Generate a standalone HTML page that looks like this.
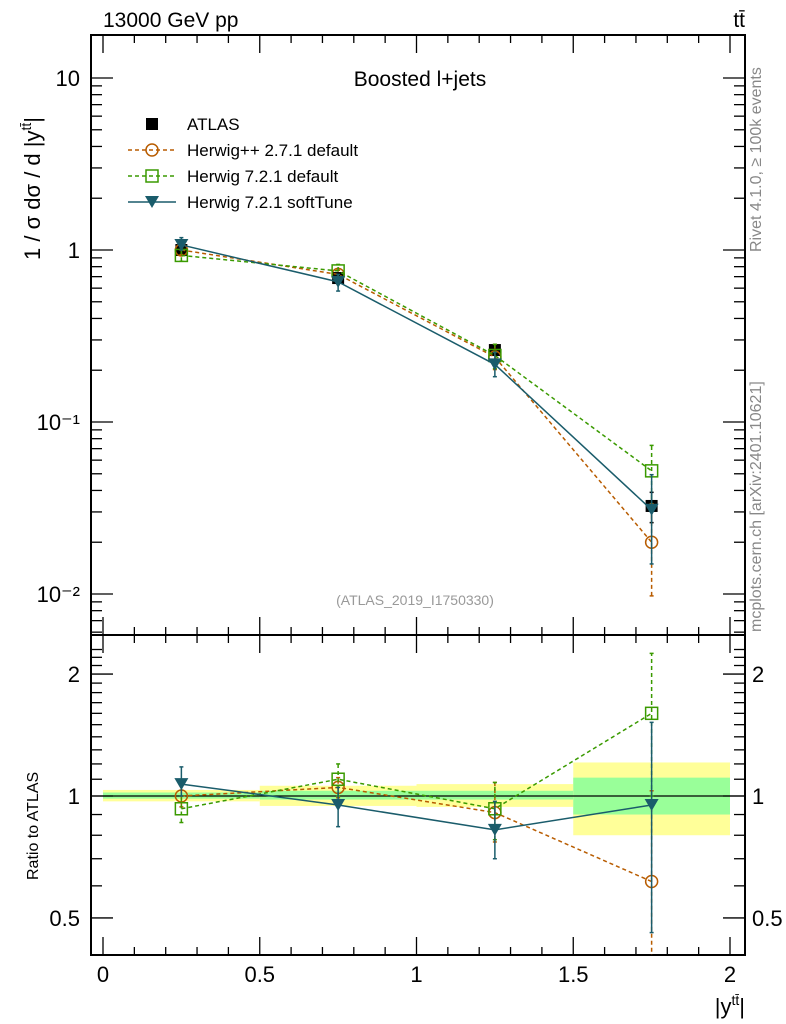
<!DOCTYPE html>
<html><head><meta charset="utf-8"><style>
body{margin:0;background:#fff;}
svg{display:block;font-family:"Liberation Sans",sans-serif;}
</style></head><body>
<svg id="c" width="786" height="1024" viewBox="0 0 786 1024" xmlns="http://www.w3.org/2000/svg"></svg>
<script>
const xCenters=[0.25,0.75,1.25,1.75];
const binEdges=[0,0.5,1,1.5,2];
const atlasVals=[1.0,0.687,0.262,0.0325];
const atlasRelErr=[0.03,0.05,0.06,0.2];
const hppRatio=[1.0,1.05,0.91,0.615];
const hppErrLo=[0.94,0.99,0.77,0.30];
const hppErrHi=[1.06,1.11,1.08,1.03];
const h7Ratio=[0.93,1.10,0.93,1.60];
const h7ErrLo=[0.86,1.0,0.78,1.0];
const h7ErrHi=[1.0,1.2,1.08,2.25];
const softRatio=[1.07,0.95,0.825,0.95];
const softErrLo=[1.0,0.84,0.70,0.46];
const softErrHi=[1.18,1.05,0.97,1.52];
const bandYelLo=[0.97,0.945,0.94,0.80];
const bandYelHi=[1.035,1.06,1.07,1.21];
const bandGrnLo=[0.985,0.98,0.98,0.90];
const bandGrnHi=[1.02,1.03,1.03,1.11];
const mainTicks=["10","1","10\u207B\u00B9","10\u207B\u00B2"];
const mainTickVals=[10,1,0.1,0.01];
const ratioTickVals=[0.5,1,2];
const xTickVals=[0,0.5,1,1.5,2];

const NS="http://www.w3.org/2000/svg";
const svg=document.getElementById('c');
const L=91,R=745,T=35,MB=635,RB=955;
const X=v=>103+v*313.5;
const Ym=v=>250-172*Math.log10(v);
const Yr=v=>796-405*Math.log10(v);
function el(t,a,p){const e=document.createElementNS(NS,t);for(const k in a)e.setAttribute(k,a[k]);(p||svg).appendChild(e);return e;}
function txt(s,a,name){const e=el('text',a);e.textContent=s;return e;}

const defs=el('defs',{});
const cm=el('clipPath',{id:'cm'},defs);el('rect',{x:L,y:T,width:R-L,height:MB-T},cm);
const cr=el('clipPath',{id:'cr'},defs);el('rect',{x:L,y:MB,width:R-L,height:RB-MB},cr);

const gb=el('g',{'clip-path':'url(#cr)'});


for(let i=0;i<4;i++){
 const r1=el('rect',{x:X(binEdges[i]),y:Yr(bandYelHi[i]),width:X(binEdges[i+1])-X(binEdges[i]),height:Yr(bandYelLo[i])-Yr(bandYelHi[i]),fill:'#ffff99'},gb);
 
 
 const r2=el('rect',{x:X(binEdges[i]),y:Yr(bandGrnHi[i]),width:X(binEdges[i+1])-X(binEdges[i]),height:Yr(bandGrnLo[i])-Yr(bandGrnHi[i]),fill:'#99ff99'},gb);
 
 
}
el('line',{x1:L,x2:R,y1:Yr(1),y2:Yr(1),stroke:'#000','stroke-width':1.3});

const f1=el('rect',{x:L,y:T,width:R-L,height:MB-T,fill:'none',stroke:'#000','stroke-width':2});

const f2=el('rect',{x:L,y:MB,width:R-L,height:RB-MB,fill:'none',stroke:'#000','stroke-width':2});


for(let v=0;v<=2.0001;v+=0.1){
 const big=Math.abs(v*2-Math.round(v*2))<1e-6;const len=big?18:8;
 for(const [y0,d] of [[T,1],[MB,-1],[MB,1],[RB,-1]]) el('line',{x1:X(v),x2:X(v),y1:y0,y2:y0+d*len,stroke:'#000','stroke-width':1.3});
}
xTickVals.forEach(v=>txt(String(v),{x:X(v),y:982,'font-size':22,'text-anchor':'middle'},'x-tick-label'));
for(let d=-3;d<=1;d++)for(let m=1;m<=9;m++){
 const v=m*Math.pow(10,d);const y=Ym(v);if(y<T||y>MB)continue;
 const len=m==1?22:11;
 el('line',{x1:L,x2:L+len,y1:y,y2:y,stroke:'#000','stroke-width':1.3});
 el('line',{x1:R,x2:R-len,y1:y,y2:y,stroke:'#000','stroke-width':1.3});
}
mainTickVals.forEach((v,i)=>txt(mainTicks[i],{x:80,y:Ym(v)+8,'font-size':22,'text-anchor':'end'},'y-tick-label'));
for(let v=0.4;v<=2.4;v+=0.1){const y=Yr(v);if(y<MB||y>RB)continue;
 const major=[0.5,1,2].some(t=>Math.abs(t-v)<1e-6);const len=major?22:11;
 el('line',{x1:L,x2:L+len,y1:y,y2:y,stroke:'#000','stroke-width':1.3});
 el('line',{x1:R,x2:R-len,y1:y,y2:y,stroke:'#000','stroke-width':1.3});}
ratioTickVals.forEach(v=>{txt(String(v),{x:80,y:Yr(v)+8,'font-size':22,'text-anchor':'end'},'ratio-tick-label');txt(String(v),{x:752,y:Yr(v)+8,'font-size':22},'ratio-tick-label-right');});

function marker(type,x,y,color,g){
 if(type=='sq-fill')el('rect',{x:x-6,y:y-6,width:12,height:12,fill:'#000'},g);
 else if(type=='circ')el('circle',{cx:x,cy:y,r:6,fill:'none',stroke:color,'stroke-width':1.5},g);
 else if(type=='sq')el('rect',{x:x-6,y:y-6,width:12,height:12,fill:'none',stroke:color,'stroke-width':1.5},g);
 else if(type=='tri')el('path',{d:`M${x-7},${y-6}L${x+7},${y-6}L${x},${y+6}Z`,fill:color},g);
}
function series(name,vals,lo,hi,Y,clip,color,dash,mk){
 const g=el('g',{'clip-path':clip});
 
 
 const pts=vals.map((v,i)=>X(xCenters[i])+','+Y(v)).join(' ');
 if(color)el('polyline',{points:pts,fill:'none',stroke:color,'stroke-width':1.5,'stroke-dasharray':dash||'none'},g);
 vals.forEach((v,i)=>{const x=X(xCenters[i]);
  if(lo){el('line',{x1:x,x2:x,y1:Y(lo[i]),y2:Y(hi[i]),stroke:color||'#000','stroke-width':1.5,'stroke-dasharray':dash||'none'},g);
   el('line',{x1:x-2,x2:x+2,y1:Y(lo[i]),y2:Y(lo[i]),stroke:color||'#000','stroke-width':1.5},g);
   el('line',{x1:x-2,x2:x+2,y1:Y(hi[i]),y2:Y(hi[i]),stroke:color||'#000','stroke-width':1.5},g);}
  marker(mk,x,Y(v),color,g);});
}
const hppMain=atlasVals.map((a,i)=>a*hppRatio[i]);
const h7Main=atlasVals.map((a,i)=>a*h7Ratio[i]);
const softMain=atlasVals.map((a,i)=>a*softRatio[i]);
series('atlas-data',atlasVals,atlasVals.map((a,i)=>a*(1-atlasRelErr[i])),atlasVals.map((a,i)=>a*(1+atlasRelErr[i])),Ym,'url(#cm)',null,null,'sq-fill');
series('herwigpp-main',hppMain,atlasVals.map((a,i)=>a*hppErrLo[i]),atlasVals.map((a,i)=>a*hppErrHi[i]),Ym,'url(#cm)','#b85c00','4,3','circ');
series('herwig7-default-main',h7Main,atlasVals.map((a,i)=>a*h7ErrLo[i]),atlasVals.map((a,i)=>a*h7ErrHi[i]),Ym,'url(#cm)','#3a9a00','4,3','sq');
series('herwig7-softtune-main',softMain,atlasVals.map((a,i)=>a*softErrLo[i]),atlasVals.map((a,i)=>a*softErrHi[i]),Ym,'url(#cm)','#1a5c6b',null,'tri');
series('herwigpp-ratio',hppRatio,hppErrLo,hppErrHi,Yr,'url(#cr)','#b85c00','4,3','circ');
series('herwig7-default-ratio',h7Ratio,h7ErrLo,h7ErrHi,Yr,'url(#cr)','#3a9a00','4,3','sq');
series('herwig7-softtune-ratio',softRatio,softErrLo,softErrHi,Yr,'url(#cr)','#1a5c6b',null,'tri');

const leg=[['ATLAS',null,null,'sq-fill'],['Herwig++ 2.7.1 default','#b85c00','4,3','circ'],['Herwig 7.2.1 default','#3a9a00','4,3','sq'],['Herwig 7.2.1 softTune','#1a5c6b',null,'tri']];
leg.forEach((l,i)=>{const y=124+i*26;const g=el('g',{});
 
 
 if(l[1])el('line',{x1:128,x2:176,y1:y,y2:y,stroke:l[1],'stroke-width':1.5,'stroke-dasharray':l[2]||'none'},g);
 marker(l[3],152,y,l[1],g);
 const t=el('text',{x:187,y:y+6,'font-size':17},g);t.textContent=l[0];});

txt('Boosted l+jets',{x:420,y:86,'font-size':21,'text-anchor':'middle'},'plot-title');
txt('13000 GeV pp',{x:103,y:27,'font-size':21},'header-left');
txt('tt\u0304',{x:745,y:27,'font-size':21,'text-anchor':'end'},'header-right');
txt('(ATLAS_2019_I1750330)',{x:415,y:605,'font-size':14,fill:'#999','text-anchor':'middle'},'analysis-id');
txt('',{x:0,y:0,'font-size':22,transform:'translate(40,260) rotate(-90)','text-anchor':'start'},'y-axis-title').innerHTML='1 / σ dσ / d |y<tspan dy="-9" font-size="14">tt̄</tspan><tspan dy="9">|</tspan>';
txt('Ratio to ATLAS',{x:0,y:0,'font-size':16,transform:'translate(38,880) rotate(-90)'},'ratio-axis-title');
const xt=txt('',{x:745,y:1014,'font-size':22,'text-anchor':'end'},'x-axis-title');
xt.innerHTML='|y<tspan dy="-9" font-size="14">tt̄</tspan><tspan dy="9">|</tspan>';
txt('Rivet 4.1.0, \u2265 100k events',{x:0,y:0,'font-size':16,fill:'#888',transform:'translate(761,252) rotate(-90)'},'rivet-label');
txt('mcplots.cern.ch [arXiv:2401.10621]',{x:0,y:0,'font-size':16,fill:'#888',transform:'translate(761,632) rotate(-90)'},'mcplots-label');
</script>
</body></html>
